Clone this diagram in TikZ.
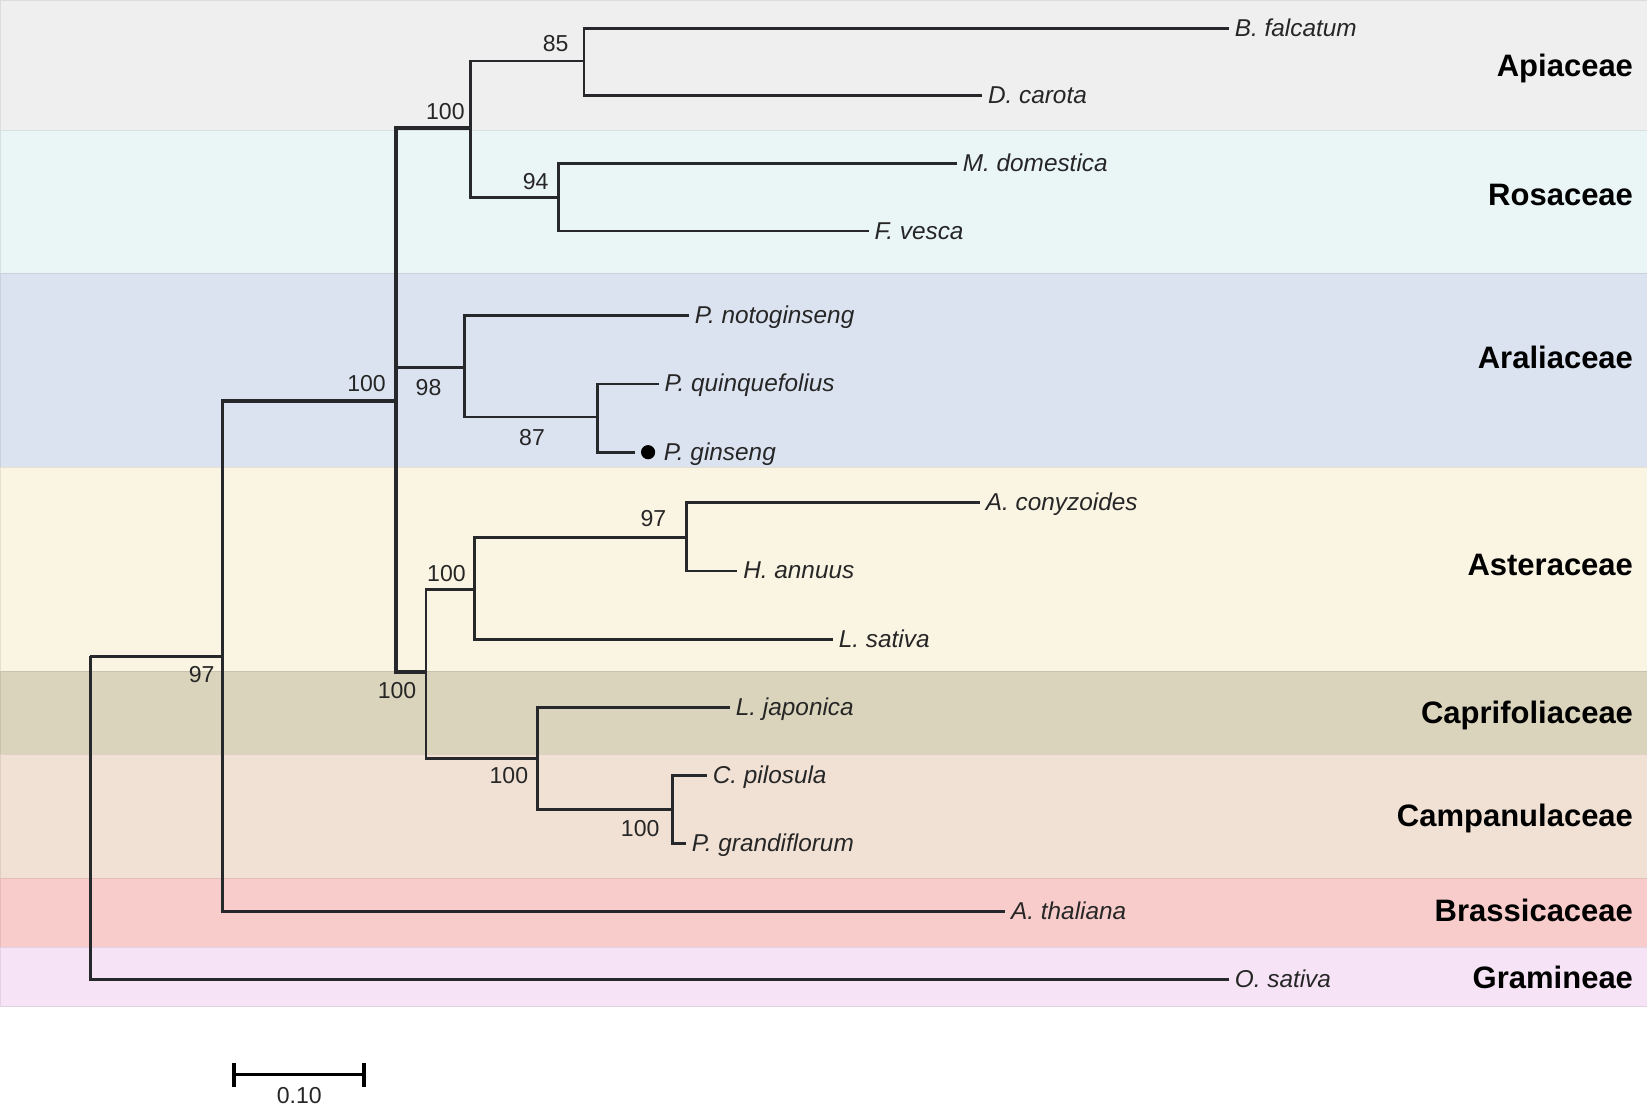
\documentclass[tikz,border=0pt]{standalone}
\usepackage{fontspec}
\setmainfont{Liberation Sans}
\usetikzlibrary{positioning, arrows.meta}
\definecolor{apiacol}{HTML}{EFEFEF}
\definecolor{rosacol}{HTML}{EAF5F6}
\definecolor{araliacol}{HTML}{DCE3F0}
\definecolor{astercol}{HTML}{FAF4E3}
\definecolor{caprifcol}{HTML}{DBD4BC}
\definecolor{campancol}{HTML}{F1E1D5}
\definecolor{brassicol}{HTML}{F8CCCA}
\definecolor{graminecol}{HTML}{F6E4F6}
\definecolor{treecol}{HTML}{26282C}

\begin{document}
\begin{tikzpicture}[x=0.02cm, y=-0.02cm,
    band/.style={fill=#1, draw=#1!92!black, line width=0.4pt},
    branch/.style={draw=treecol, line width=1.5pt},
    leaf/.style={anchor=west, inner xsep=3pt, inner ysep=0pt, text height=0.86em, text depth=0pt,
        text=black!85, font=\fontsize{13.2}{15}\selectfont\itshape},
    boot/.style={inner sep=0pt, text=black!85, font=\fontsize{12.5}{15}\selectfont},
    family/.style={anchor=base east, inner sep=0pt, font=\fontsize{16.8}{19}\selectfont\bfseries},
    dot/.style={circle, fill=black, inner sep=0pt, minimum size=0.27cm, outer sep=3pt}]

    \useasboundingbox (0,0) rectangle (1568,1054);
    \fill[white] (0,0) rectangle (1568,1054);

    % Family bands
    \path[band=apiacol]    (0,0)   rectangle (1568,124);
    \path[band=rosacol]    (0,124) rectangle (1568,260);
    \path[band=araliacol]  (0,260) rectangle (1568,445);
    \path[band=astercol]   (0,445) rectangle (1568,639);
    \path[band=caprifcol]  (0,639) rectangle (1568,718);
    \path[band=campancol]  (0,718) rectangle (1568,836);
    \path[band=brassicol]  (0,836) rectangle (1568,902);
    \path[band=graminecol] (0,902) rectangle (1568,958);

    \node[family] (fapia)    at (1555,73)  {Apiaceae};
    \node[family] (frosa)    at (1555,196) {Rosaceae};
    \node[family] (faralia)  at (1555,351) {Araliaceae};
    \node[family] (faster)   at (1555,548) {Asteraceae};
    \node[family] (fcaprif)  at (1555,689) {Caprifoliaceae};
    \node[family] (fcampan)  at (1555,787) {Campanulaceae};
    \node[family] (fbrassi)  at (1555,877) {Brassicaceae};
    \node[family] (fgramine) at (1555,941) {Gramineae};

    % Internal nodes
    \coordinate (root)  at (86,625);
    \coordinate (n97a)  at (212,625);
    \coordinate (main)  at (377,382);
    \coordinate (n100a) at (448,122);
    \coordinate (n85)   at (556,58);
    \coordinate (n94)   at (532,188);
    \coordinate (n98)   at (442,350);
    \coordinate (n87)   at (569,397);
    \coordinate (n100f) at (405.5,640);
    \coordinate (n100c) at (452,561);
    \coordinate (n97b)  at (653.5,511.5);
    \coordinate (n100d) at (511.5,722);
    \coordinate (n100e) at (640,770.5);

    % Leaves
    \node[leaf] (bfal) at (1170,27)    {B. falcatum};
    \node[leaf] (dcar) at (935,91)     {D. carota};
    \node[leaf] (mdom) at (911,155.5)  {M. domestica};
    \node[leaf] (fves) at (827,220)    {F. vesca};
    \node[leaf] (pnot) at (656,300.5)  {P. notoginseng};
    \node[leaf] (pqui) at (627,365.5)  {P. quinquefolius};
    \node[dot]  (gdot) at (617,430.5)  {};
    \node[leaf, right=-1.5pt of gdot] (pgin) {P. ginseng};
    \node[leaf] (acon) at (933,478.5)  {A. conyzoides};
    \node[leaf] (hann) at (702,543.6)  {H. annuus};
    \node[leaf] (lsat) at (793,608.5)  {L. sativa};
    \node[leaf] (ljap) at (695,673.4)  {L. japonica};
    \node[leaf] (cpil) at (673,738)    {C. pilosula};
    \node[leaf] (pgra) at (653,803)    {P. grandiflorum};
    \node[leaf] (atha) at (957,868)    {A. thaliana};
    \node[leaf] (osat) at (1170,932.5) {O. sativa};

    % Branches
    \foreach \p/\c in {root/n97a, n100a/n85, n100a/n94, n98/n87,
                       n100f/n100c, n100f/n100d, n100c/n97b, n100d/n100e}
        \draw[branch] (\p) |- (\c);
    \foreach \p/\c in {n97a/main, main/n100a, main/n98, main/n100f}
        \draw[branch, line width=1.9pt] (\p) |- (\c);
    \foreach \p/\c in {root/osat, n97a/atha, n85/bfal, n85/dcar, n94/mdom, n94/fves,
                       n98/pnot, n87/pqui, n87/gdot, n97b/acon, n97b/hann, n100c/lsat,
                       n100d/ljap, n100e/cpil, n100e/pgra}
        \draw[branch] (\p) |- (\c.west);

    % Bootstrap values
    \node[boot] (b85)   at (529,41)      {85};
    \node[boot] (b100a) at (424,106)     {100};
    \node[boot] (b94)   at (510,173)     {94};
    \node[boot] (bmain) at (349,365)     {100};
    \node[boot] (b98)   at (408,368.5)   {98};
    \node[boot] (b87)   at (506.5,417)   {87};
    \node[boot] (b97b)  at (622,494)     {97};
    \node[boot] (b100c) at (425,546)     {100};
    \node[boot] (b100f) at (378,657)     {100};
    \node[boot] (b97a)  at (192,642.5)   {97};
    \node[boot] (b100d) at (484.5,738)   {100};
    \node[boot] (b100e) at (609.5,788.5) {100};

    % Scale bar
    \coordinate (sbl) at (221,1023);
    \coordinate (sbr) at (348,1023);
    \draw[line width=1.5pt, {Bar[width=13pt, line width=2pt]}-{Bar[width=13pt, line width=2pt]}] (sbl) -- (sbr);
    \node[boot] (sbtext) at (285,1043) {0.10};
\end{tikzpicture}
\end{document}
